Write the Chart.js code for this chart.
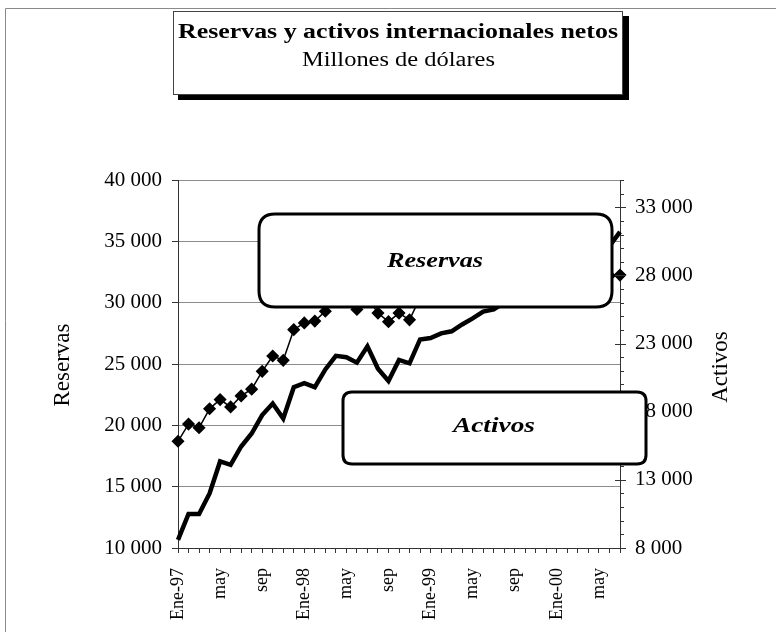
<!DOCTYPE html>
<html><head><meta charset="utf-8">
<script src="https://cdn.jsdelivr.net/npm/chart.js@4.4.0/dist/chart.umd.min.js"></script>
<style>html,body{margin:0;padding:0;background:#fff}</style>
</head><body>
<canvas id="c" width="780" height="632" style="display:block;width:780px;height:632px"></canvas>
<script>
// ---- DATA ----
const categories = [
  'Ene-97','feb','mar','abr','may','jun','jul','ago','sep','oct','nov','dic',
  'Ene-98','feb','mar','abr','may','jun','jul','ago','sep','oct','nov','dic',
  'Ene-99','feb','mar','abr','may','jun','jul','ago','sep','oct','nov','dic',
  'Ene-00','feb','mar','abr','may','jun','jul'
];
// Reservas (left axis), millones de dólares
const reservas = [
  18700, 20100, 19800, 21350, 22100, 21500, 22400, 22950, 24400, 25650, 25300, 27800,
  28350, 28500, 29300, 30500, 30700, 29450, 30400, 29150, 28450, 29150, 28600, 30400,
  30600, 30800, 30700, 31000, 31200, 31100, 31300, 31500, 31300, 31600, 31800, 31700,
  31400, 31600, 31900, 32000, 32100, 32200, 32250
];
// Activos internacionales netos (right axis), millones de dólares
const activos = [
  8600, 10500, 10500, 12000, 14350, 14100, 15450, 16400, 17750, 18600, 17500, 19800,
  20100, 19800, 21100, 22100, 22000, 21600, 22800, 21150, 20250, 21800, 21550, 23300,
  23400, 23750, 23900, 24400, 24850, 25350, 25500, 26000, 26400, 26900, 27300, 27700,
  28000, 28500, 28900, 29300, 29700, 30150, 31200
];
const leftTicks = [10000, 15000, 20000, 25000, 30000, 35000, 40000];
const rightTicks = [8000, 13000, 18000, 23000, 28000, 33000];
const titleText = 'Reservas y activos internacionales netos';
const subtitleText = 'Millones de dólares';

// ---- helpers ----
const FONT = "'Liberation Serif', 'Times New Roman', serif";
function fmt(v){ return String(v).replace(/\B(?=(\d{3})+(?!\d))/g, ' '); }
function scaledText(ctx, text, cx, baseline, font, targetW){
  ctx.save();
  ctx.font = font;
  const w = ctx.measureText(text).width;
  const s = targetW / w;
  ctx.translate(cx, baseline);
  ctx.scale(s, 1);
  ctx.textAlign = 'center';
  ctx.textBaseline = 'alphabetic';
  ctx.fillStyle = '#000';
  ctx.fillText(text, 0, 0);
  ctx.restore();
}
function rrect(ctx, x, y, w, h, r){
  ctx.beginPath();
  ctx.moveTo(x + r, y);
  ctx.lineTo(x + w - r, y);
  ctx.quadraticCurveTo(x + w, y, x + w, y + r);
  ctx.lineTo(x + w, y + h - r);
  ctx.quadraticCurveTo(x + w, y + h, x + w - r, y + h);
  ctx.lineTo(x + r, y + h);
  ctx.quadraticCurveTo(x, y + h, x, y + h - r);
  ctx.lineTo(x, y + r);
  ctx.quadraticCurveTo(x, y, x + r, y);
  ctx.closePath();
}

const deco = {
  id: 'deco',
  beforeDraw(chart){
    const ctx = chart.ctx;
    ctx.save();
    ctx.fillStyle = '#fff';
    ctx.fillRect(0, 0, chart.width, chart.height);
    ctx.restore();
  },
  afterDraw(chart){
    const ctx = chart.ctx;
    const ca = chart.chartArea;
    ctx.save();
    // outer frame (left + top)
    ctx.strokeStyle = '#8a8a8a';
    ctx.lineWidth = 1;
    ctx.beginPath();
    ctx.moveTo(5.5, 632); ctx.lineTo(5.5, 8.5); ctx.lineTo(776, 8.5);
    ctx.stroke();

    // title box with shadow
    ctx.fillStyle = '#000';
    ctx.fillRect(178, 16, 451, 84);
    ctx.fillStyle = '#fff';
    ctx.fillRect(173, 11, 450, 84);
    ctx.strokeStyle = '#444';
    ctx.lineWidth = 1;
    ctx.strokeRect(173.5, 11.5, 449, 83);
    scaledText(ctx, titleText, 398, 38, "bold 20px " + FONT, 440);
    scaledText(ctx, subtitleText, 398.5, 66, "20px " + FONT, 193);

    // axis titles
    ctx.fillStyle = '#000';
    ctx.font = "23px " + FONT;
    ctx.textAlign = 'center';
    ctx.textBaseline = 'middle';
    ctx.save(); ctx.translate(63, 365); ctx.rotate(-Math.PI/2); ctx.fillText('Reservas', 0, 0); ctx.restore();
    ctx.save(); ctx.translate(721, 367); ctx.rotate(-Math.PI/2); ctx.fillText('Activos', 0, 0); ctx.restore();

    // right axis minor / major ticks
    const y1 = chart.scales.y1;
    ctx.strokeStyle = '#333';
    ctx.lineWidth = 1;
    for (let v = y1.min; v <= y1.max; v += 1000){
      const py = Math.round(y1.getPixelForValue(v)) + 0.5;
      const major = rightTicks.includes(v);
      ctx.beginPath();
      ctx.moveTo(major ? ca.right - 5 : ca.right, py);
      ctx.lineTo(ca.right + (major ? 6 : 4), py);
      ctx.stroke();
    }

    // callout boxes
    ctx.lineWidth = 3;
    ctx.strokeStyle = '#000';
    ctx.fillStyle = '#fff';
    rrect(ctx, 259, 214, 353, 93, 16);
    ctx.fill(); ctx.stroke();
    rrect(ctx, 343, 392, 303, 72, 9);
    ctx.fill(); ctx.stroke();
    scaledText(ctx, 'Reservas', 435, 267, "bold italic 22px " + FONT, 96);
    scaledText(ctx, 'Activos', 494, 432, "bold italic 22px " + FONT, 82);
    ctx.restore();
  }
};

Chart.defaults.font.family = FONT;
Chart.defaults.color = '#000';

new Chart(document.getElementById('c'), {
  type: 'line',
  data: {
    labels: categories,
    datasets: [
      {
        label: 'Reservas',
        data: reservas,
        yAxisID: 'y',
        borderColor: '#000',
        backgroundColor: '#000',
        borderWidth: 1.5,
        pointStyle: 'rectRot',
        pointRadius: 5.5,
        pointBackgroundColor: '#000',
        pointBorderColor: '#000',
        tension: 0,
        fill: false
      },
      {
        label: 'Activos',
        data: activos,
        yAxisID: 'y1',
        borderColor: '#000',
        borderWidth: 4.5,
        pointRadius: 0,
        tension: 0,
        fill: false,
        borderJoinStyle: 'miter'
      }
    ]
  },
  options: {
    responsive: false,
    animation: false,
    devicePixelRatio: 1,
    layout: { padding: { top: 180, left: 0, right: 0, bottom: 0 } },
    plugins: { legend: { display: false }, tooltip: { enabled: false }, title: { display: false } },
    scales: {
      x: {
        type: 'category',
        offset: false,
        grid: { display: true, drawOnChartArea: false, drawTicks: true, tickLength: 5, tickColor: '#333' },
        border: { display: true, color: '#333', width: 1 },
        ticks: {
          autoSkip: false, maxRotation: 90, minRotation: 90, padding: 15,
          font: { size: 18, family: FONT },
          callback: (v, i) => (i % 4 === 0 ? categories[i] : '')
        },
        afterFit: (s) => { s.height = 84; }
      },
      y: {
        position: 'left',
        min: 10000, max: 40000,
        afterBuildTicks: (s) => { s.ticks = leftTicks.map(v => ({ value: v })); },
        grid: { color: '#8c8c8c', lineWidth: 1, borderDash: [12, 3], drawTicks: true, tickLength: 6, tickColor: '#333', tickBorderDash: [] },
        border: { display: true, color: '#333', width: 1 },
        ticks: { padding: 10, font: { size: 21, family: FONT }, callback: (v) => fmt(v) },
        afterFit: (s) => { s.width = 178; }
      },
      y1: {
        position: 'right',
        min: 8000, max: 35000,
        afterBuildTicks: (s) => { s.ticks = rightTicks.map(v => ({ value: v })); },
        grid: { display: true, drawOnChartArea: false, drawTicks: false },
        border: { display: true, color: '#333', width: 1 },
        ticks: { padding: 15, font: { size: 21, family: FONT }, callback: (v) => fmt(v) },
        afterFit: (s) => { s.width = 160; }
      }
    }
  },
  plugins: [deco]
});
</script>
</body></html>
